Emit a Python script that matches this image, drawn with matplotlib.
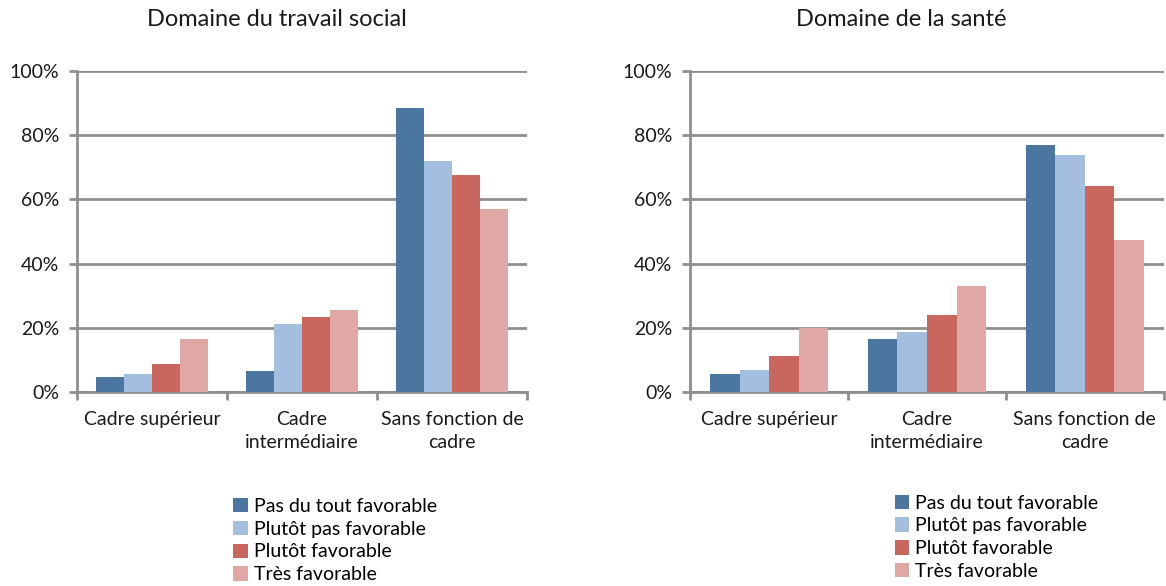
import matplotlib.pyplot as plt
import numpy as np
from matplotlib.ticker import PercentFormatter
from matplotlib.patches import Patch

plt.rcParams['font.family'] = ['Lato', 'DejaVu Sans']

categories = ['Cadre supérieur', 'Cadre\nintermédiaire', 'Sans fonction de\ncadre']
series = ['Pas du tout favorable', 'Plutôt pas favorable', 'Plutôt favorable', 'Très favorable']
colors = ['#4a76a0', '#a3bede', '#c9665e', '#e0a8a4']

# percent values per series (rows) for each category (columns)
travail_social = [
    [4.6, 6.4, 88.5],
    [5.7, 21.3, 72.1],
    [8.6, 23.3, 67.7],
    [16.5, 25.7, 57.0],
]
sante = [
    [5.7, 16.5, 76.9],
    [7.0, 18.6, 73.7],
    [11.3, 24.1, 64.1],
    [19.8, 33.0, 47.3],
]
titles = ['Domaine du travail social', 'Domaine de la santé']

fig = plt.figure(figsize=(11.66, 5.86), dpi=100)
ax1 = fig.add_axes([0.066, 0.331, 0.386, 0.548])
ax2 = fig.add_axes([0.592, 0.331, 0.406, 0.548])

grey = '#8f8f8f'
txt = '#1a1a1a'
x = np.arange(len(categories))
w = 0.1875

for ax, data, title in zip([ax1, ax2], [travail_social, sante], titles):
    for i, vals in enumerate(data):
        ax.bar(x + (i - 1.5) * w, vals, w, color=colors[i], zorder=3)
    ax.set_xlim(-0.5, 2.5)
    ax.set_ylim(0, 100)
    ax.set_yticks(range(0, 101, 20))
    ax.yaxis.set_major_formatter(PercentFormatter(decimals=0))
    ax.grid(axis='y', color=grey, linewidth=2, zorder=0)
    for s in ['top', 'right']:
        ax.spines[s].set_visible(False)
    ax.spines['left'].set_color(grey)
    ax.spines['left'].set_linewidth(2)
    ax.spines['bottom'].set_color(grey)
    ax.spines['bottom'].set_linewidth(2)
    ax.set_xticks([-0.5, 0.5, 1.5, 2.5])
    ax.set_xticklabels([])
    ax.set_xticks(x, minor=True)
    ax.set_xticklabels(categories, minor=True, fontsize=14, color=txt, linespacing=1.4)
    ax.tick_params(axis='x', which='minor', length=0, pad=14)
    ax.tick_params(axis='x', which='major', length=6, width=2, color=grey)
    ax.tick_params(axis='y', length=6, width=2, color=grey, labelsize=14,
                   labelcolor=txt, pad=7)
    ax.set_title(title, fontsize=17, pad=32, color=txt, x=0.445)

handles = [Patch(facecolor=c, label=s) for c, s in zip(colors, series)]
ax1.legend(handles=handles, loc='upper left', bbox_to_anchor=(0.33, -0.305),
           frameon=False, fontsize=14, handlelength=0.75, handleheight=0.75,
           handletextpad=0.3, labelspacing=0.3, borderaxespad=0)
ax2.legend(handles=handles, loc='upper left', bbox_to_anchor=(0.415, -0.295),
           frameon=False, fontsize=14, handlelength=0.75, handleheight=0.75,
           handletextpad=0.3, labelspacing=0.3, borderaxespad=0)

fig.savefig('out.png', dpi=100)
